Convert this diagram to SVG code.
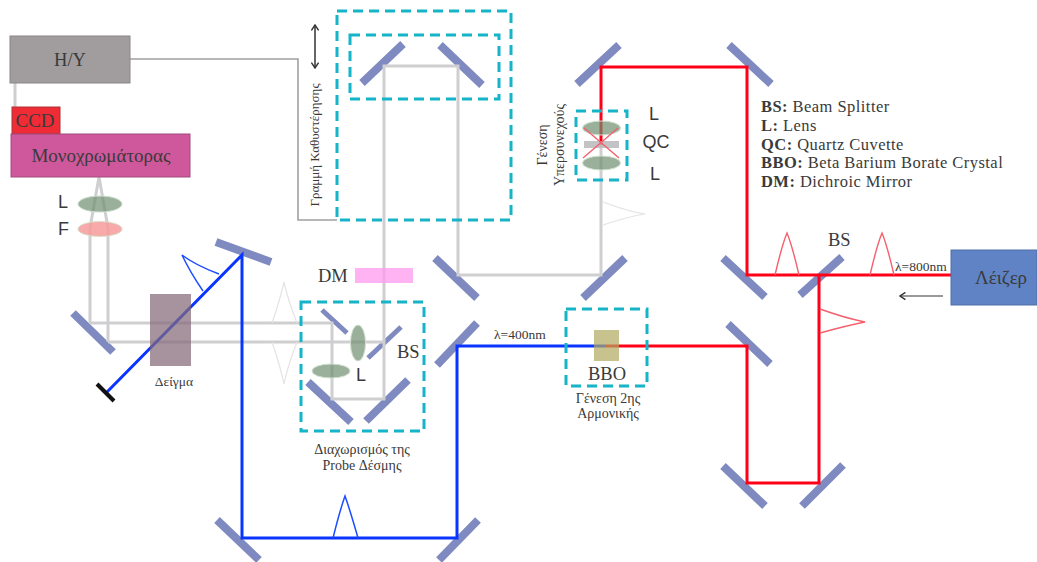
<svg xmlns="http://www.w3.org/2000/svg" width="1037" height="562" viewBox="0 0 1037 562">
<defs>
<style>
.m{stroke:#7f8bc0;stroke-width:8;fill:none}
.ms{stroke:#7f8bc0;stroke-width:5;fill:none}
.g{stroke:#cfcfd2;stroke-width:3;fill:none}
.g2{stroke:#e4e4e4;stroke-width:1.2;fill:none}
.w{stroke:#a0a0a0;stroke-width:1.6;fill:none}
.r{stroke:#ff0018;stroke-width:3;fill:none}
.b{stroke:#0a34ff;stroke-width:3;fill:none}
.rp{stroke:#f4606c;stroke-width:1.4;fill:none}
.bp{stroke:#1c4cff;stroke-width:1.5;fill:none}
.d{fill:none;stroke:#15b4c8;stroke-width:3;stroke-dasharray:10 6}
.lens{fill:#6f8f6f;fill-opacity:.7;stroke:#cfe0cf;stroke-width:1}
text{font-family:"Liberation Serif","Noto Sans",serif;fill:#3a3a3a}
.s{font-family:"Liberation Sans","Noto Sans",sans-serif}
.c{text-anchor:middle}
.n13{font-size:13.5px}.n14{font-size:14px}.n18{font-size:18.5px}
.leg{font-size:16.5px;letter-spacing:.45px}
</style>
<marker id="ah" viewBox="0 0 10 10" refX="9" refY="5" markerWidth="9" markerHeight="9" orient="auto-start-reverse" markerUnits="userSpaceOnUse"><path d="M3 1L9 5L3 9" fill="none" stroke="#333" stroke-width="1.6"/></marker>
</defs>
<rect width="1037" height="562" fill="#fff"/>

<g id="mirrors">
<path class="m" d="M577 84L619 45M729 45L771 84M362 83L403 44M440 45L482 85M435 258L477 298M583 298L625 258M723 258L765 297M800 295L842 257M437 365L477 323M728 324L770 364M723 466L765 506M802 506L843 465M73 313L113 352M216 242L271 262M217 520L259 560M478 520L439 560"/>
<path class="m" d="M308 382L351 422M408 380L366 421"/>
<path class="ms" d="M322 310L347 333"/>
<path class="ms" stroke-width="6" d="M401 327L368 358"/>
</g>

<g id="connectors">
<path class="w" d="M130 59H298V220H337"/>
<path class="g" d="M15 83V107"/>
<path class="g" d="M90 323V228L99 177L108 228V342"/>
<path class="g" d="M90 323H332V399H384V66H458V275H601V145"/>
<path class="g" d="M108 342H384"/>
<path class="g2" d="M272 323Q280 300 284 282Q288 300 297 323M272 342Q280 365 284 384Q288 365 297 342M603 202Q630 212 645 214Q630 216 603 225"/>
<path class="r" d="M601 145V67H747V275H951"/>
<path class="r" d="M819 275V483H747V346H605"/>
<path class="rp" d="M775 275Q782 245 787 233Q792 245 799 275M870 275Q877 245 882 233Q887 245 894 275M820 309Q845 318 865 322Q845 326 820 333"/>
<path class="b" d="M605 346H457V538H242V255L107 392"/>
<path class="bp" d="M333 538Q340 510 345 496Q350 510 358 538M219 274Q195 265 182 255Q190 272 203 291"/>
<path stroke="#111" stroke-width="4" fill="none" d="M97 384L114 401"/>
<path stroke="#333" stroke-width="1.5" fill="none" marker-start="url(#ah)" marker-end="url(#ah)" d="M315 25V68"/>
<path stroke="#777" stroke-width="1.5" fill="none" marker-start="url(#ah)" d="M900 296H943"/>
</g>

<g id="hy"><rect x="10" y="36" width="120" height="47" fill="#a19d9f" stroke="#8a8688"/><text class="c n18" x="70" y="66">H/Y</text></g>
<g id="ccd"><rect x="12" y="107" width="48" height="27" fill="#ef2c36" stroke="#a33"/><text class="c" font-size="19" x="35" y="127">CCD</text></g>
<g id="mono"><rect x="11" y="134" width="179" height="43" fill="#cf579b" stroke="#a04a7c"/><text class="c" font-size="19" x="101" y="162">Μονοχρωμάτορας</text></g>
<g id="lens-l"><ellipse class="lens" cx="100" cy="204" rx="22" ry="8"/><text class="s" font-size="18" x="58" y="208">L</text></g>
<g id="filter-f"><ellipse cx="100" cy="229" rx="22" ry="7.5" fill="#f79a9a" fill-opacity=".85" stroke="#d8e0c8"/><text class="s" font-size="18" x="58" y="235">F</text></g>
<g id="sample"><rect x="150" y="294" width="41" height="72" fill="#846a78" fill-opacity=".72"/><text class="c n13" x="174" y="386">Δείγμα</text></g>
<g id="dm"><rect x="355" y="268" width="58" height="15" fill="#ff99ee" fill-opacity=".75"/><text class="n18" x="318" y="282">DM</text></g>
<g id="probe-split"><rect class="d" x="301" y="302" width="123" height="129"/><ellipse class="lens" cx="358" cy="343" rx="7.5" ry="18"/><ellipse class="lens" cx="331" cy="371" rx="19" ry="7"/><text class="s" font-size="18" x="356" y="381">L</text><text class="n18" x="397" y="358">BS</text><text class="c n14" x="362" y="454">Διαχωρισμός της</text><text class="c n14" x="362" y="470">Probe Δέσμης</text></g>
<g id="delay"><rect class="d" x="337" y="11" width="174" height="209"/><rect class="d" x="350" y="35" width="149" height="64"/><text class="c" font-size="13" transform="translate(319 145) rotate(-90)">Γραμμή Καθυστέρησης</text></g>
<g id="supercontinuum"><rect class="d" x="576" y="111" width="51" height="69"/><rect x="584" y="141" width="35" height="7" fill="#b8b8bc" fill-opacity=".85"/><ellipse class="lens" cx="601.5" cy="128" rx="19" ry="7"/><ellipse class="lens" cx="601.5" cy="163" rx="19" ry="7"/><path class="rp" stroke-width="1" d="M583 158L618 128M584 128L619 158"/><text class="s" font-size="18" x="649" y="120">L</text><text class="s c" font-size="18" x="656" y="148">QC</text><text class="s" font-size="18" x="650" y="180">L</text><text class="c n14" transform="translate(547 145) rotate(-90)">Γένεση</text><text class="c n14" transform="translate(564 145) rotate(-90)">Υπερσυνεχούς</text></g>
<g id="bbo"><rect class="d" x="566" y="309" width="81" height="77"/><rect x="594" y="330" width="25" height="31" fill="#b0a95e" fill-opacity=".7"/><text class="c n18" x="607" y="380">BBO</text><text class="c n14" x="608" y="403">Γένεση 2ης</text><text class="c n14" x="608" y="418">Αρμονικής</text></g>
<g id="laser"><rect x="951" y="250" width="86" height="55" fill="#5f83c4" stroke="#4f6fa8"/><text class="c" font-size="19" x="1001" y="284">Λέιζερ</text></g>
<g id="labels">
<text class="n18" x="828" y="246">BS</text>
<text class="n13" x="895" y="271">λ=800nm</text>
<text class="n13" x="494" y="339">λ=400nm</text>
<text class="leg" x="761" y="112"><tspan font-weight="bold">BS:</tspan> Beam Splitter</text>
<text class="leg" x="761" y="131"><tspan font-weight="bold">L:</tspan> Lens</text>
<text class="leg" x="761" y="150"><tspan font-weight="bold">QC:</tspan> Quartz Cuvette</text>
<text class="leg" x="761" y="168"><tspan font-weight="bold">BBO:</tspan> Beta Barium Borate Crystal</text>
<text class="leg" x="761" y="187"><tspan font-weight="bold">DM:</tspan> Dichroic Mirror</text>
</g>
</svg>
